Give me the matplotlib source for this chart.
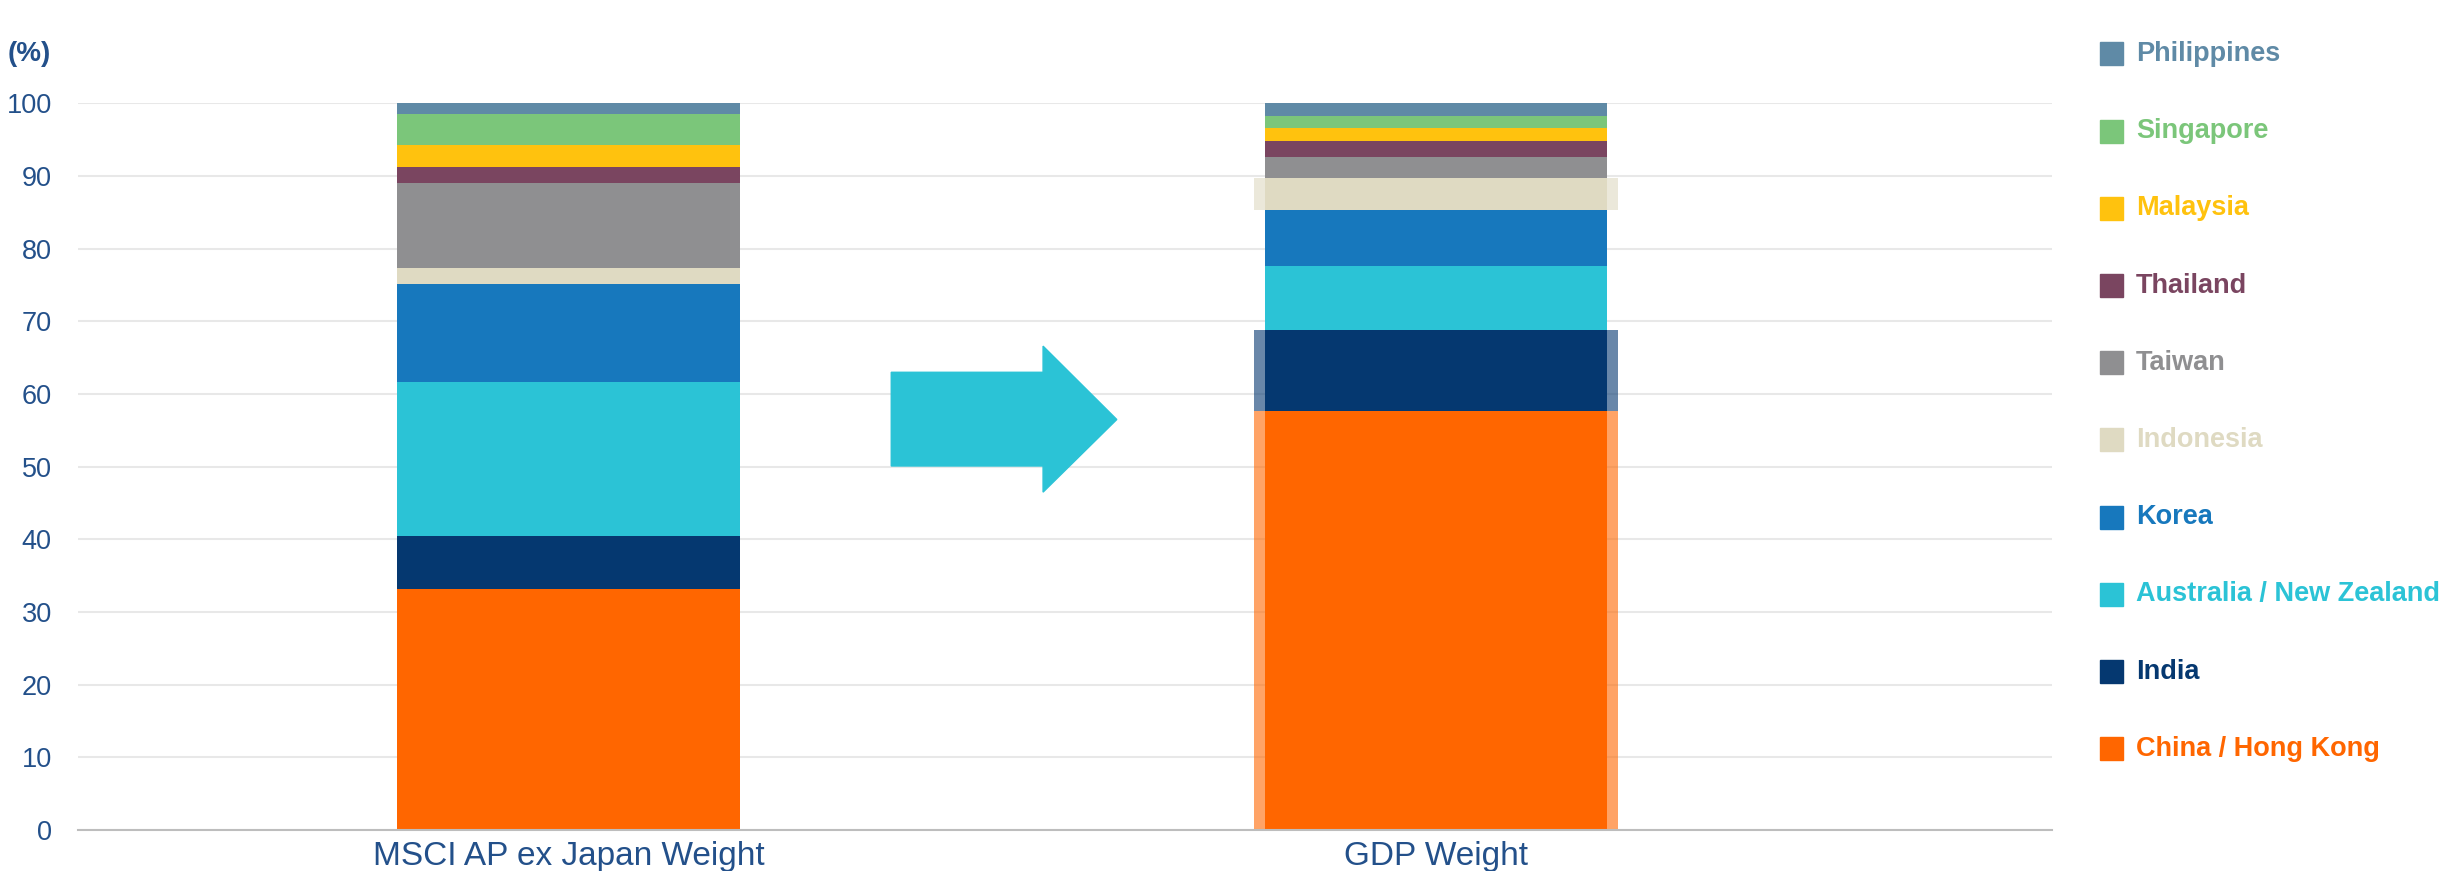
import numpy as np
from matplotlib import pyplot as plt
from matplotlib.patches import Polygon, Rectangle

plt.rcParams["font.family"] = ["Liberation Sans", "DejaVu Sans"]

# stacked bottom-up
countries = ["China / Hong Kong", "India", "Australia / New Zealand", "Korea", "Indonesia",
             "Taiwan", "Thailand", "Malaysia", "Singapore", "Philippines"]
colors = ["#ff6600", "#053870", "#2bc3d6", "#1778bd", "#dfdac2",
          "#8f8f91", "#7a4560", "#ffc20e", "#7bc67a", "#5f8aa6"]
msci_weight = [33.2, 7.3, 21.2, 13.4, 2.2, 11.8, 2.1, 3.1, 4.3, 1.4]
gdp_weight = [57.7, 11.1, 8.8, 7.7, 4.5, 2.9, 2.1, 1.8, 1.7, 1.7]
bar_labels = ["MSCI AP ex Japan Weight", "GDP Weight"]
highlighted = ["China / Hong Kong", "India", "Indonesia"]

text_blue = "#23508a"

fig = plt.figure(figsize=(24.4, 8.71), dpi=100)
ax = fig.add_axes([0.032, 0.0471, 0.809, 0.8341])

x = np.arange(len(bar_labels))
bw = 0.395

bottom_m = 0
bottom_g = 0
for i, c in enumerate(countries):
    ax.bar(x[0], msci_weight[i], bw, bottom=bottom_m, color=colors[i], zorder=3)
    if c in highlighted:
        ax.bar(x[1], gdp_weight[i], 0.419, bottom=bottom_g, color=colors[i], alpha=0.6, linewidth=0, zorder=2)
    ax.bar(x[1], gdp_weight[i], bw, bottom=bottom_g, color=colors[i], zorder=3)
    bottom_m += msci_weight[i]
    bottom_g += gdp_weight[i]

# arrow between the bars
arrow = Polygon([[0.372, 50.1], [0.547, 50.1], [0.547, 46.5], [0.632, 56.5],
                 [0.547, 66.6], [0.547, 63.0], [0.372, 63.0]],
                closed=True, color="#2bc3d6", zorder=3)
ax.add_patch(arrow)

ax.set_xlim(-0.5654, 1.7101)
ax.set_ylim(0, 100)
ax.set_yticks(np.arange(0, 101, 10))
ax.set_xticks(x)
ax.set_xticklabels(bar_labels)
ax.tick_params(axis="y", length=0, pad=19, labelsize=19.5, labelcolor=text_blue)
ax.tick_params(axis="x", length=0, pad=8, labelsize=24, labelcolor=text_blue)
ax.grid(axis="y", color="#e8e8e8", linewidth=1.5, zorder=0)
ax.set_axisbelow(True)
for s in ["top", "right", "left"]:
    ax.spines[s].set_visible(False)
ax.spines["bottom"].set_color("#bdbdbd")
ax.spines["bottom"].set_linewidth(1.5)
ax.spines["bottom"].set_zorder(4)

fig.text(8 / 2440, 1 - 54 / 871, "(%)", fontsize=20, fontweight="bold", color=text_blue, va="center", ha="left")

# legend, top to bottom
for j, i in enumerate(range(len(countries) - 1, -1, -1)):
    yc = 54 + j * 77.2
    fig.patches.append(Rectangle((2100 / 2440, 1 - (yc + 11.5) / 871), 23 / 2440, 23 / 871,
                                 color=colors[i], transform=fig.transFigure, figure=fig))
    fig.text(2136 / 2440, 1 - yc / 871, countries[i], fontsize=19.5, fontweight="bold",
             color=colors[i], va="center", ha="left")

plt.savefig("out.png", dpi=100)
